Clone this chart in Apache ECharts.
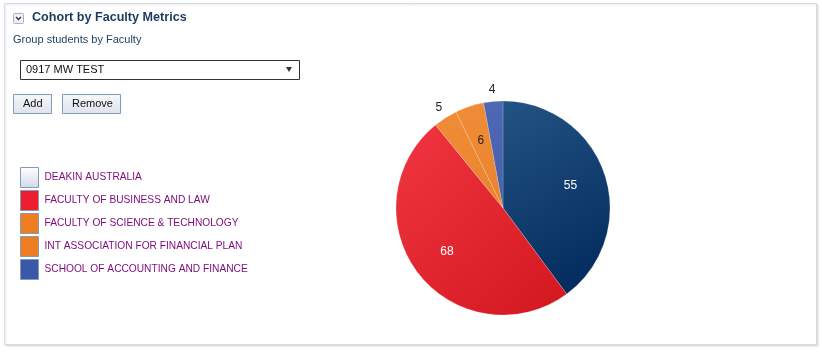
<!DOCTYPE html>
<html>
<head>
<meta charset="utf-8">
<script src="https://cdn.jsdelivr.net/npm/echarts@6/dist/echarts.min.js"></script>
<style>
  html, body { margin: 0; padding: 0; background: #fff; }
  #main { width: 822px; height: 352px; }
</style>
</head>
<body>
<div id="main"></div>
<script>
// faculties and student counts
const faculties = [
  'DEAKIN AUSTRALIA',
  'FACULTY OF BUSINESS AND LAW',
  'FACULTY OF SCIENCE & TECHNOLOGY',
  'INT ASSOCIATION FOR FINANCIAL PLAN',
  'SCHOOL OF ACCOUNTING AND FINANCE'
];
const counts = [55, 68, 5, 6, 4];
const outsideLabel = [false, false, true, false, true];
const insideColor = ['#fff', '#fff', '#222', '#222', '#222'];

const font = 'Liberation Sans, Arial, sans-serif';

function grad(a, b) {
  return new echarts.graphic.LinearGradient(0, 0, 1, 1, [
    { offset: 0, color: a },
    { offset: 1, color: b }
  ]);
}
const sliceColors = [
  grad('#235384', '#00285a'),
  grad('#f23641', '#d3171f'),
  grad('#f08c38', '#ea832c'),
  grad('#f08c38', '#ea832c'),
  grad('#4e68b3', '#4660ab')
];
const legendColors = [
  new echarts.graphic.LinearGradient(0, 0, 0, 1, [
    { offset: 0, color: '#ffffff' },
    { offset: 1, color: '#d2d9e7' }
  ]),
  '#ed1c2e',
  '#ee7d22',
  '#ee7d22',
  '#3b58a8'
];

const chart = echarts.init(document.getElementById('main'));

const mainData = faculties.map((name, i) => ({
  name,
  value: counts[i],
  itemStyle: { color: sliceColors[i] }
}));
// label layers (same values, transparent) so labels sit where the original puts them
const innerLabels = faculties.map((name, i) => ({
  name,
  value: counts[i],
  label: { show: !outsideLabel[i], color: insideColor[i] }
}));
const outerLabels = faculties.map((name, i) => ({
  name,
  value: counts[i],
  label: { show: outsideLabel[i] }
}));

const pieBase = {
  type: 'pie',
  center: [503, 208],
  startAngle: 90,
  clockwise: true,
  avoidLabelOverlap: false,
  labelLine: { show: false }
};

const option = {
  animation: false,
  backgroundColor: '#fff',
  legend: {
    orient: 'vertical',
    left: 20,
    top: 167,
    padding: 0,
    itemWidth: 18,
    itemHeight: 20,
    itemGap: 2,
    selectedMode: false,
    icon: 'rect',
    itemStyle: { borderColor: '#7f9db9', borderWidth: 1 },
    textStyle: { color: '#7d0a7d', fontSize: 10.2, fontFamily: font, padding: [0, 0, 0, 1] },
    data: faculties.map((name, i) => ({ name, itemStyle: { color: legendColors[i] } }))
  },
  graphic: [
    // panel
    {
      type: 'rect',
      shape: { x: 4.5, y: 3.5, width: 812, height: 341 },
      style: { fill: '#fff', stroke: '#d6dce5', lineWidth: 1, shadowColor: 'rgba(0,0,0,0.12)', shadowBlur: 2, shadowOffsetX: 1, shadowOffsetY: 1 },
      z: -10
    },
    // collapse icon
    {
      type: 'rect',
      shape: { x: 13.5, y: 13.5, width: 10, height: 10, r: 1 },
      style: { fill: '#eef1f6', stroke: '#a6b2c4', lineWidth: 1 }
    },
    {
      type: 'polyline',
      shape: { points: [[16, 17], [18.5, 19.5], [21, 17]] },
      style: { stroke: '#333', lineWidth: 1.3, fill: null }
    },
    {
      type: 'text', left: 32, top: 11,
      style: { text: 'Cohort by Faculty Metrics', font: 'bold 12.6px ' + font, fill: '#1b3b5e' }
    },
    {
      type: 'text', left: 13, top: 34,
      style: { text: 'Group students by Faculty', font: '11px ' + font, fill: '#1c4466' }
    },
    // dropdown
    {
      type: 'rect',
      shape: { x: 20.5, y: 60.5, width: 279, height: 19 },
      style: { fill: '#fff', stroke: '#333', lineWidth: 1 }
    },
    {
      type: 'text', left: 26, top: 64,
      style: { text: '0917 MW TEST', font: '11px ' + font, fill: '#111' }
    },
    {
      type: 'polygon',
      shape: { points: [[286, 67], [292, 67], [289, 72]] },
      style: { fill: '#333' }
    },
    // buttons
    {
      type: 'rect',
      shape: { x: 13.5, y: 94.5, width: 38, height: 19 },
      style: {
        fill: new echarts.graphic.LinearGradient(0, 0, 0, 1, [
          { offset: 0, color: '#f6f8fb' }, { offset: 1, color: '#dde3ed' }
        ]),
        stroke: '#7f9db9', lineWidth: 1
      }
    },
    {
      type: 'text', left: 23, top: 98,
      style: { text: 'Add', font: '11px ' + font, fill: '#111' }
    },
    {
      type: 'rect',
      shape: { x: 62.5, y: 94.5, width: 58, height: 19 },
      style: {
        fill: new echarts.graphic.LinearGradient(0, 0, 0, 1, [
          { offset: 0, color: '#f6f8fb' }, { offset: 1, color: '#dde3ed' }
        ]),
        stroke: '#7f9db9', lineWidth: 1
      }
    },
    {
      type: 'text', left: 72, top: 98,
      style: { text: 'Remove', font: '11px ' + font, fill: '#111' }
    }
  ],
  series: [
    {
      ...pieBase,
      name: 'Faculty',
      radius: [0, 107],
      label: { show: false },
      itemStyle: { borderColor: 'rgba(255,255,255,0.35)', borderWidth: 0.5 },
      data: mainData
    },
    {
      ...pieBase,
      name: 'inner',
      radius: [0, 136],
      silent: true,
      itemStyle: { color: 'rgba(0,0,0,0)' },
      label: { position: 'inside', formatter: '{c}', fontSize: 12, fontFamily: font },
      data: innerLabels
    },
    {
      ...pieBase,
      name: 'outer',
      radius: [100, 132],
      silent: true,
      itemStyle: { color: 'rgba(0,0,0,0)' },
      label: { position: 'inside', formatter: '{c}', fontSize: 12, fontFamily: font, color: '#222' },
      data: outerLabels
    }
  ]
};

chart.setOption(option);
</script>
</body>
</html>
